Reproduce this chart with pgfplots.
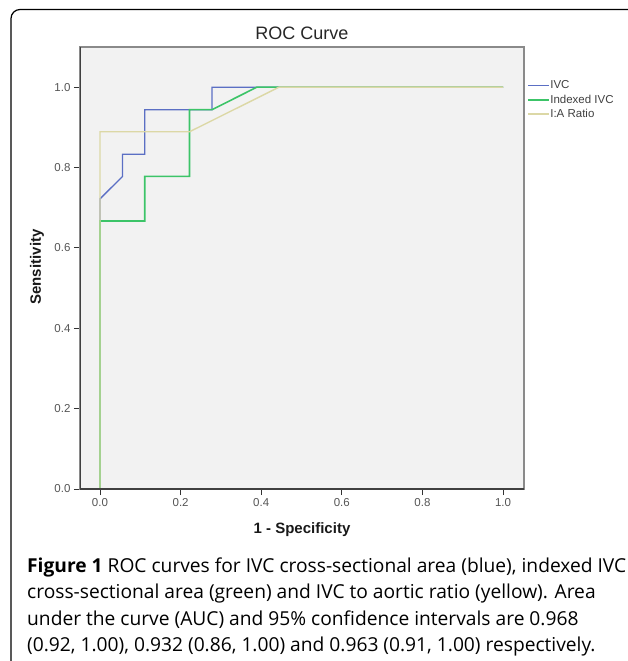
\documentclass[border=0pt]{standalone}
\usepackage{fontspec}
\setmainfont{Liberation Sans}
\newfontfamily\capfont{Open Sans}
\usepackage{pgfplots}
\pgfplotsset{compat=1.18}

\definecolor{ivcblue}{HTML}{5B6FC4}
\definecolor{idxgreen}{HTML}{3CC468}
\definecolor{ratioyel}{HTML}{DCD8A6}
\definecolor{plotbg}{HTML}{F2F2F2}
\definecolor{boxgray}{HTML}{8A8A8A}
\definecolor{ticktext}{HTML}{555555}

\begin{document}
\begin{tikzpicture}
\useasboundingbox (0,0) rectangle (628pt,-661pt);
% outer figure frame (only top and left edges are visible)
\draw[line width=1.2pt, rounded corners=9pt] (11pt,-661pt) -- (11pt,-9.5pt) -- (628pt,-9.5pt);

\begin{axis}[
  at={(80pt,-489pt)}, anchor=south west,
  scale only axis, width=444pt, height=442pt,
  xmin=-0.0496, xmax=1.052, ymin=0, ymax=1.1,
  xtick={0,0.2,...,1.0}, ytick={0,0.2,...,1.0},
  xtick pos=bottom, ytick pos=left,
  tick align=outside, major tick length=6pt,
  tick style={draw=black!80, line width=0.9pt},
  axis line style={draw=boxgray, line width=1.2pt},
  axis background/.style={fill=plotbg},
  /pgf/number format/assume math mode=true,
  /pgf/number format/fixed, /pgf/number format/fixed zerofill,
  /pgf/number format/precision=1,
  tick label style={font=\fontsize{11.5}{13}\selectfont, text=ticktext},
  legend style={at={(1.0068,0.925)}, anchor=north west, draw=none, fill=none,
    font=\fontsize{11.5}{13}\selectfont, text=black!75, inner sep=0pt,
    row sep=3.5pt, nodes={inner sep=0.5pt}},
  legend cell align=left,
  legend image code/.code={\draw[#1] (0pt,0pt) -- (21pt,0pt);},
]
\addplot[ivcblue, line width=1.3pt] coordinates {
  (0,0) (0,0.722) (0.056,0.778) (0.056,0.833) (0.111,0.833) (0.111,0.944)
  (0.278,0.944) (0.278,1.0) (1.0,1.0)
};
\addlegendentry{IVC}
\addplot[idxgreen, line width=1.6pt] coordinates {
  (0,0) (0,0.667) (0.111,0.667) (0.111,0.778) (0.222,0.778) (0.222,0.944)
  (0.278,0.944) (0.389,1.0) (1.0,1.0)
};
\addlegendentry{Indexed IVC}
\addplot[ratioyel, line width=1.4pt] coordinates {
  (0,0) (0,0.889) (0.222,0.889) (0.444,1.0) (1.0,1.0)
};
\addlegendentry{I:A Ratio}
\draw[black!75, line width=1.2pt] (rel axis cs:0,1) -- (rel axis cs:0,0) -- (rel axis cs:1,0);
\end{axis}

\node[font=\fontsize{18}{20}\selectfont, text=black!85] at (302pt,-33pt) {ROC Curve};
\node[font=\fontsize{15}{17}\selectfont\bfseries, text=black!90] at (302pt,-530pt) {1 - Specificity};
\node[font=\fontsize{15}{17}\selectfont\bfseries, text=black!90, rotate=90] at (37pt,-267pt) {Sensitivity};

\begin{scope}[every node/.style={anchor=base west, inner sep=0pt, font=\capfont\fontsize{19.2}{22}\selectfont}]
\node at (27pt,-572pt) {\textbf{Figure 1} ROC curves for IVC cross-sectional area (blue), indexed IVC};
\node at (27pt,-598.5pt) {cross-sectional area (green) and IVC to aortic ratio (yellow). Area};
\node at (27pt,-625pt) {under the curve (AUC) and 95\% confidence intervals are 0.968};
\node at (27pt,-651.5pt) {(0.92, 1.00), 0.932 (0.86, 1.00) and 0.963 (0.91, 1.00) respectively.};
\end{scope}
\end{tikzpicture}
\end{document}
